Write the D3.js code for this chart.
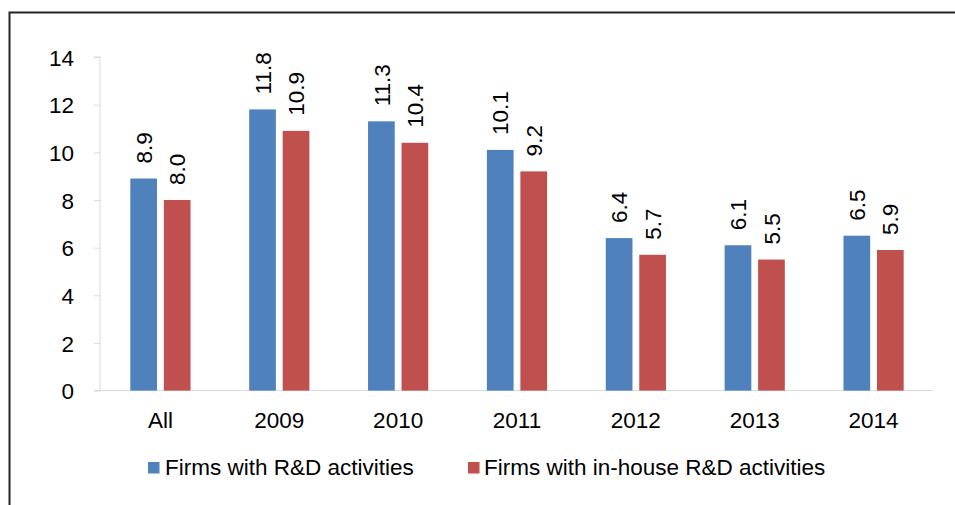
<!DOCTYPE html>
<html>
<head>
<meta charset="utf-8">
<script src="https://cdn.jsdelivr.net/npm/d3@7"></script>
<style>
  body { margin: 0; background: #fff; }
  svg { display: block; }
  text { font-family: "Liberation Sans", Arial, sans-serif; fill: #000; }
</style>
</head>
<body>
<svg id="chart" width="955" height="505"></svg>
<script>
const categories = ["All", "2009", "2010", "2011", "2012", "2013", "2014"];
const seriesNames = ["Firms with R&D activities", "Firms with in-house R&D activities"];
const rdActivities = [8.9, 11.8, 11.3, 10.1, 6.4, 6.1, 6.5];
const inHouseRd = [8.0, 10.9, 10.4, 9.2, 5.7, 5.5, 5.9];
const yTicks = [0, 2, 4, 6, 8, 10, 12, 14];
const colors = ["#4F81BD", "#C0504D"];
const fs = "22.5px";

const svg = d3.select("#chart");

// frame (top and left)
svg.append("path")
  .attr("d", "M9.5,505 L9.5,12.5 L955,12.5")
  .attr("fill", "none").attr("stroke", "#262626").attr("stroke-width", 2);

const y = d3.scaleLinear().domain([0, 14]).range([390.6, 57]);
const x = d3.scaleBand().domain(categories).range([101, 933]).padding(0);

const barW = 26.7, gap = 6.8;

// y axis
const yAxis = svg.append("g").attr("transform", "translate(100,0)")
  .call(d3.axisLeft(y).tickValues(yTicks).tickSize(6).tickPadding(20).tickFormat(d3.format("d")));
yAxis.select(".domain").attr("stroke", "#D9D9D9").attr("d", `M-6,${y(14)}H0V${y(0)}`);
yAxis.selectAll(".tick line").attr("stroke", "#D9D9D9");
yAxis.selectAll(".tick text").style("font-size", fs).attr("dy", "0.36em")
  .attr("font-family", "Liberation Sans, Arial, sans-serif");

// x axis baseline
const xAxis = svg.append("g").attr("transform", `translate(0,${y(0)})`)
  .call(d3.axisBottom(x).tickSize(0).tickPadding(21));
xAxis.select(".domain").attr("stroke", "#D9D9D9").attr("d", `M94,0H933`);
xAxis.selectAll(".tick text").style("font-size", fs)
  .attr("font-family", "Liberation Sans, Arial, sans-serif");

const series = [rdActivities, inHouseRd];
series.forEach((vals, si) => {
  const g = svg.append("g");
  const xOff = si === 0 ? -(barW + gap / 2) : gap / 2;
  g.selectAll("rect").data(categories).join("rect")
    .attr("x", (d) => x(d) + x.bandwidth() / 2 + xOff)
    .attr("width", barW)
    .attr("y", (d, i) => y(vals[i]))
    .attr("height", (d, i) => y(0) - y(vals[i]))
    .attr("fill", colors[si]);
  g.selectAll("text").data(categories).join("text")
    .attr("transform", (d, i) => {
      const cx = x(d) + x.bandwidth() / 2 + xOff + barW / 2;
      return `translate(${cx},${y(vals[i]) - 15}) rotate(-90)`;
    })
    .attr("dy", "0.36em")
    .attr("text-anchor", "start")
    .style("font-size", fs)
    .text((d, i) => vals[i].toFixed(1));
});

// legend
const legendPos = [{ sx: 148, tx: 165 }, { sx: 468, tx: 484 }];
seriesNames.forEach((name, i) => {
  svg.append("rect").attr("x", legendPos[i].sx).attr("y", 462).attr("width", 11.5).attr("height", 11.5)
    .attr("fill", colors[i]);
  svg.append("text").attr("x", legendPos[i].tx).attr("y", 475)
    .style("font-size", fs).text(name);
});
</script>
</body>
</html>
